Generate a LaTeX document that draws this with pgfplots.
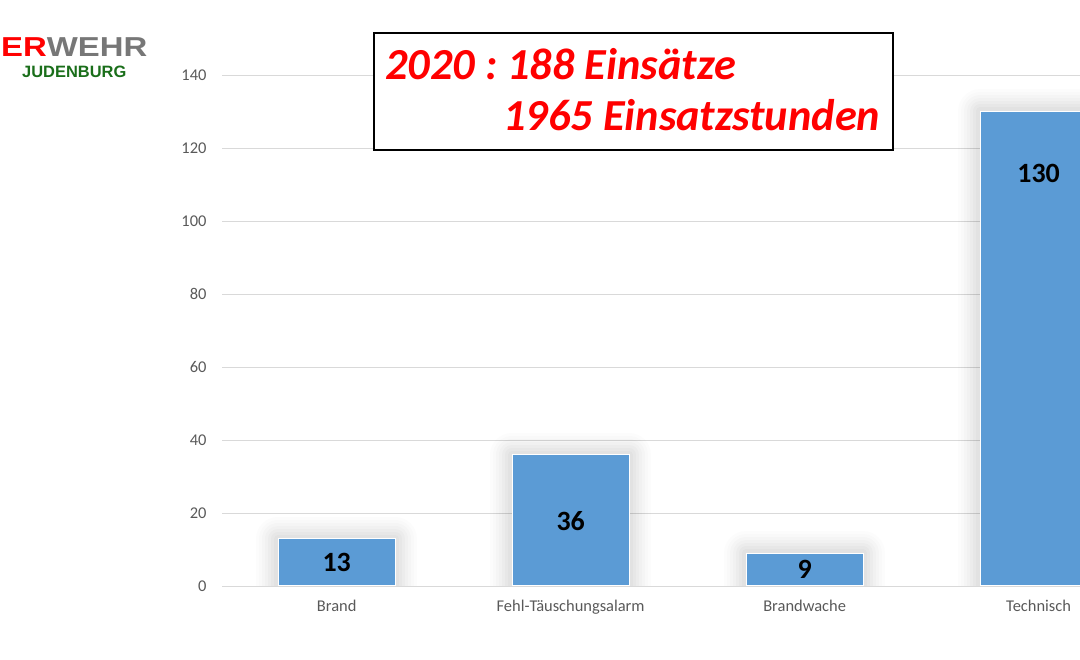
\documentclass[border=0pt]{standalone}
\usepackage{fontspec}
\setmainfont{Carlito}
\newfontfamily\logofont{Liberation Sans}
\usepackage{pgfplots}
\pgfplotsset{compat=1.18}
\frenchspacing
\definecolor{barblue}{HTML}{5B9BD5}
\definecolor{gridgray}{HTML}{D9D9D9}
\definecolor{labelgray}{HTML}{595959}
\definecolor{logogray}{HTML}{777777}
\definecolor{logogreen}{HTML}{1A6E1A}
\tikzset{barshadow/.style={
  preaction={draw=black, draw opacity=0.010, line width=44bp, line join=round},
  preaction={draw=black, draw opacity=0.012, line width=38bp, line join=round},
  preaction={draw=black, draw opacity=0.014, line width=32bp, line join=round},
  preaction={draw=black, draw opacity=0.016, line width=26bp, line join=round},
  preaction={draw=black, draw opacity=0.018, line width=20bp, line join=round},
  preaction={draw=black, draw opacity=0.02, line width=14bp, line join=round},
  preaction={draw=black, draw opacity=0.02, line width=8bp, line join=round}}}
\begin{document}
\begin{tikzpicture}[x=1bp,y=1bp]
\useasboundingbox (0,0) rectangle (1080,660);
\begin{axis}[at={(222bp,74bp)}, anchor=south west, scale only axis,
  width=858bp, height=511bp,
  xmin=-0.49, xmax=3.177, ymin=0, ymax=140,
  ytick={0,20,...,140}, xtick={0,1,2,3},
  xticklabels={Brand,Fehl-Täuschungsalarm,Brandwache,Technisch},
  ymajorgrids, grid style={draw=gridgray, line width=0.9bp},
  axis line style={draw=none}, major tick length=0pt,
  tick label style={font=\fontsize{16.5}{19}\selectfont, text=labelgray},
  yticklabel style={xshift=-12bp},
  xticklabel style={yshift=-11bp},
  /pgf/number format/assume math mode=true,
]
\addplot[ybar, bar width=117bp, fill=barblue, draw=white, line width=1bp, barshadow]
  coordinates {(0,13) (1,36) (2,9) (3,130)};
\addplot[only marks, mark=none, nodes near coords, point meta=explicit symbolic,
  nodes near coords style={anchor=center, font=\bfseries\fontsize{28}{30}\selectfont, text=black}]
  coordinates {(0,6.4)[13] (1,17.7)[36] (2,4.5)[9] (3,113.0)[130]};
\end{axis}
\draw[line width=2.5bp, fill=white] (374,510) rectangle (893,627);
\node[anchor=base west, inner sep=0, text=red, font=\bfseries\itshape\fontsize{44.5}{48}\selectfont] at (385,580) {2020 : 188 Einsätze};
\node[anchor=base west, inner sep=0, text=red, font=\bfseries\itshape\fontsize{44.5}{48}\selectfont] at (503,529) {1965 Einsatzstunden};
\node[anchor=base west, inner sep=0, font=\logofont\bfseries\fontsize{27.5}{30}\selectfont, xscale=1.2] at (1,603) {\textcolor{red}{ER}\textcolor{logogray}{WEHR}};
\node[anchor=base west, inner sep=0, text=logogreen, font=\logofont\bfseries\fontsize{16.5}{19}\selectfont] at (22,582) {JUDENBURG};
\end{tikzpicture}
\end{document}
